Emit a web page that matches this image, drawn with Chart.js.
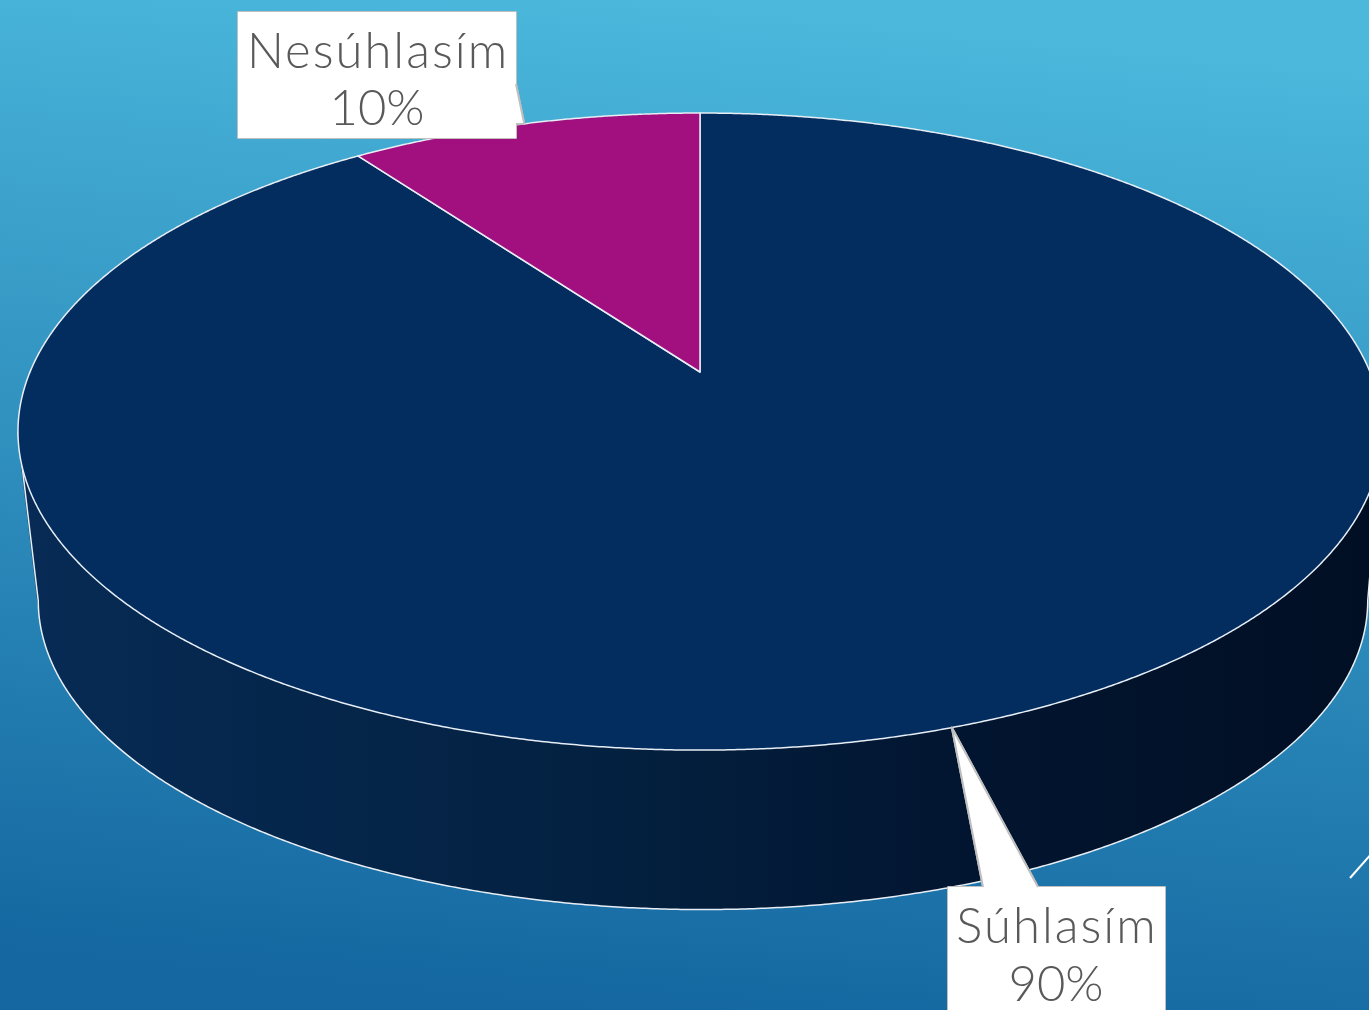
<!DOCTYPE html>
<html lang="sk">
<head>
<meta charset="UTF-8">
<title>Súhlasím / Nesúhlasím</title>
<script src="https://cdn.jsdelivr.net/npm/chart.js@4.4.1/dist/chart.umd.min.js"></script>
<style>
    html, body { margin: 0; padding: 0; overflow: hidden; background: #2a8cc0; }
    canvas { display: block; }
</style>
</head>
<body>
<canvas id="pie3d" width="1369" height="1010"></canvas>
<script>
// data
const categories = ['Súhlasím', 'Nesúhlasím'];
const shares = [90, 10];
const pctLabels = ['90%', '10%'];
const sliceColors = ['#032d5f', '#a20f7e'];

// perspective of the tilted disc (top face and bottom rim)
const TOP = { cx: 700, cy: 372, b: 670, a: 307.4, k: 0.187 };
const BOT = { cx: 703, cy: 543, b: 653, a: 298, k: 0.187 };

function proj(p, ang) {
    const u = Math.cos(ang), v = Math.sin(ang);
    const s = 1 - p.k * v;
    return [p.cx + p.b * u / s, p.cy + p.a * v / s];
}

// label boxes: box rect, pointer base on box edge
const callouts = [
    { x: 948, y: 887, w: 217, h: 140, base: [[983, 887], [1038, 887]], cx: 1056, l1: 943, l2: 1001 },
    { x: 238, y: 12, w: 278, h: 126, base: [[516, 84], [516, 124]], cx: 377, l1: 68, l2: 125 }
];

const pie3dPlugin = {
    id: 'pie3d',
    beforeDraw(chart) {
        const ctx = chart.ctx;
        const g = ctx.createLinearGradient(700, 0, 600, 1010);
        g.addColorStop(0, '#4bb8dc');
        g.addColorStop(1, '#1467a0');
        ctx.save();
        ctx.fillStyle = g;
        ctx.fillRect(0, 0, chart.width, chart.height);
        // thin slide decoration bottom right
        ctx.strokeStyle = '#ffffff';
        ctx.lineWidth = 2;
        ctx.beginPath();
        ctx.moveTo(1350, 878);
        ctx.lineTo(1372, 853);
        ctx.stroke();
        ctx.restore();
    },
    beforeDatasetsDraw(chart) {
        const ctx = chart.ctx;
        const arcs = chart.getDatasetMeta(0).data;
        const wallFrom = -0.4, wallTo = Math.PI + 0.4;
        const step = 0.01;

        ctx.save();
        // side wall
        const wg = ctx.createLinearGradient(20, 0, 1369, 0);
        wg.addColorStop(0, '#072b55');
        wg.addColorStop(0.45, '#03203f');
        wg.addColorStop(0.7, '#021530');
        wg.addColorStop(1, '#010f24');
        arcs.forEach((el) => {
            [0, -2 * Math.PI, 2 * Math.PI].forEach((shift) => {
                const s = Math.max(el.startAngle + shift, wallFrom);
                const e = Math.min(el.endAngle + shift, wallTo);
                if (e <= s) return;
                ctx.beginPath();
                for (let t = s; t < e; t += step) {
                    const t2 = Math.min(t + step * 1.5, e);
                    let q = [proj(TOP, t), proj(TOP, t2), proj(BOT, t2), proj(BOT, t)];
                    let area = 0;
                    for (let i = 0; i < 4; i++) {
                        const p1 = q[i], p2 = q[(i + 1) % 4];
                        area += p1[0] * p2[1] - p2[0] * p1[1];
                    }
                    if (area < 0) q = q.reverse();
                    ctx.moveTo(q[0][0], q[0][1]);
                    for (let i = 1; i < 4; i++) ctx.lineTo(q[i][0], q[i][1]);
                    ctx.closePath();
                }
                ctx.fillStyle = wg;
                ctx.fill('nonzero');
            });
        });

        // wall outline: visible bottom rim between its extremes + silhouettes
        let bL = 0, bR = 0, tL = 0, tR = 0, minB = 1e9, maxB = -1e9, minT = 1e9, maxT = -1e9;
        for (let t = -0.5; t <= Math.PI + 0.5; t += 0.001) {
            const pb = proj(BOT, t), pt = proj(TOP, t);
            if (pb[0] < minB) { minB = pb[0]; bL = t; }
            if (pb[0] > maxB) { maxB = pb[0]; bR = t; }
            if (pt[0] < minT) { minT = pt[0]; tL = t; }
            if (pt[0] > maxT) { maxT = pt[0]; tR = t; }
        }
        ctx.strokeStyle = '#e8eef5';
        ctx.lineWidth = 1.5;
        ctx.lineJoin = 'round';
        ctx.beginPath();
        let p = proj(TOP, tR);
        ctx.moveTo(p[0], p[1]);
        p = proj(BOT, bR);
        ctx.lineTo(p[0], p[1]);
        for (let t = bR; t <= bL; t += 0.005) {
            p = proj(BOT, t);
            ctx.lineTo(p[0], p[1]);
        }
        p = proj(BOT, bL);
        ctx.lineTo(p[0], p[1]);
        p = proj(TOP, tL);
        ctx.lineTo(p[0], p[1]);
        ctx.stroke();

        // top face slices
        arcs.forEach((el, i) => {
            ctx.beginPath();
            ctx.moveTo(TOP.cx, TOP.cy);
            for (let t = el.startAngle; t < el.endAngle; t += 0.004) {
                p = proj(TOP, t);
                ctx.lineTo(p[0], p[1]);
            }
            p = proj(TOP, el.endAngle);
            ctx.lineTo(p[0], p[1]);
            ctx.closePath();
            ctx.fillStyle = sliceColors[i];
            ctx.fill();
            ctx.strokeStyle = '#e8eef5';
            ctx.lineWidth = 1.5;
            ctx.stroke();
        });

        // callouts
        arcs.forEach((el, i) => {
            const c = callouts[i];
            const tip = proj(TOP, (el.startAngle + el.endAngle) / 2);
            ctx.beginPath();
            ctx.rect(c.x, c.y, c.w, c.h);
            ctx.moveTo(c.base[0][0], c.base[0][1]);
            ctx.lineTo(tip[0], tip[1]);
            ctx.lineTo(c.base[1][0], c.base[1][1]);
            ctx.fillStyle = '#ffffff';
            ctx.strokeStyle = '#bfbfbf';
            ctx.lineWidth = 2;
            ctx.stroke();
            ctx.fill();
            // hide the box edge under the pointer
            ctx.beginPath();
            ctx.moveTo(c.base[0][0], c.base[0][1]);
            ctx.lineTo(tip[0], tip[1]);
            ctx.lineTo(c.base[1][0], c.base[1][1]);
            ctx.closePath();
            ctx.fill();
            ctx.beginPath();
            ctx.moveTo(c.base[0][0], c.base[0][1]);
            ctx.lineTo(tip[0], tip[1]);
            ctx.lineTo(c.base[1][0], c.base[1][1]);
            ctx.stroke();

            ctx.fillStyle = '#595959';
            ctx.textAlign = 'center';
            ctx.textBaseline = 'alphabetic';
            ctx.font = '300 49px Lato, "Open Sans", sans-serif';
            ctx.letterSpacing = '2px';
            ctx.fillText(categories[i], c.cx + 1, c.l1);
            ctx.letterSpacing = '0px';
            ctx.fillText(pctLabels[i], c.cx, c.l2);
        });
        ctx.restore();
        return false;
    }
};

new Chart(document.getElementById('pie3d'), {
    type: 'pie',
    data: {
        labels: categories,
        datasets: [{
            data: shares,
            backgroundColor: sliceColors,
            borderColor: '#ffffff',
            borderWidth: 1.5
        }]
    },
    options: {
        responsive: false,
        animation: false,
        events: [],
        plugins: {
            legend: { display: false },
            tooltip: { enabled: false }
        }
    },
    plugins: [pie3dPlugin]
});
</script>
</body>
</html>
